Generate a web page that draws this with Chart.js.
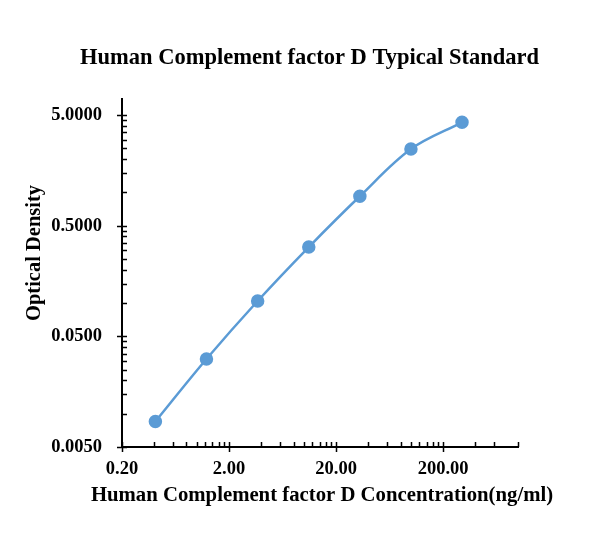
<!DOCTYPE html>
<html><head><meta charset="utf-8">
<script src="https://cdn.jsdelivr.net/npm/chart.js@4/dist/chart.umd.min.js"></script>
<style>html,body{margin:0;padding:0;background:#fff;}canvas{display:block;}</style>
</head><body>
<canvas id="c" width="610" height="557"></canvas>
<script>
// ---- data ----
const concentrations = [0.41, 1.23, 3.70, 11.11, 33.33, 100, 300];
const opticalDensity = [0.0085, 0.0312, 0.1045, 0.321, 0.924, 2.47, 4.31];
const xMajorTicks = [0.2, 2, 20, 200];
const xTickLabels = ['0.20', '2.00', '20.00', '200.00'];
const xMinorTicks = [0.4, 0.6, 0.8, 1, 1.2, 1.4, 1.6, 1.8,
                     4, 6, 8, 10, 12, 14, 16, 18,
                     40, 60, 80, 100, 120, 140, 160, 180,
                     400, 600, 1000];
const yMajorTicks = [0.005, 0.05, 0.5, 5];
const yTickLabels = ['0.0050', '0.0500', '0.5000', '5.0000'];
const yMinorTicks = [0.01, 0.015, 0.02, 0.025, 0.03, 0.035, 0.04, 0.045,
                     0.1, 0.15, 0.2, 0.25, 0.3, 0.35, 0.4, 0.45,
                     1, 1.5, 2, 2.5, 3, 3.5, 4, 4.5];
const xRange = [0.2, 1000];
const yRange = [0.005, 7];
const chartTitle = 'Human Complement factor D Typical Standard';
const xTitle = 'Human Complement factor D Concentration(ng/ml)';
const yTitle = 'Optical Density';

const SERIF = "'Liberation Serif', 'Times New Roman', serif";
const BLUE = '#5B9BD5';

function buildTicks(major, minor) {
  return major.map(v => ({value: v, major: true}))
    .concat(minor.map(v => ({value: v, major: false})))
    .sort((a, b) => a.value - b.value);
}

const tickMarks = {
  id: 'tickMarks',
  beforeDatasetsDraw(chart) {
    const ctx = chart.ctx;
    const xs = chart.scales.x, ys = chart.scales.y;
    ctx.save();
    ctx.strokeStyle = '#000';
    ctx.lineWidth = 1.5;
    ctx.beginPath();
    xs.ticks.forEach(t => {
      const px = Math.round(xs.getPixelForValue(t.value)) + 0.5;
      const y0 = xs.top;
      if (t.major) { ctx.moveTo(px, y0 - 5); ctx.lineTo(px, y0 + 5); }
      else { ctx.moveTo(px, y0 - 5); ctx.lineTo(px, y0); }
    });
    ys.ticks.forEach(t => {
      const py = Math.round(ys.getPixelForValue(t.value)) + 0.5;
      const x0 = ys.right;
      if (t.major) { ctx.moveTo(x0 - 5, py); ctx.lineTo(x0 + 5, py); }
      else { ctx.moveTo(x0, py); ctx.lineTo(x0 + 5, py); }
    });
    ctx.stroke();
    ctx.restore();
  }
};

const axisTitles = {
  id: 'axisTitles',
  afterDraw(chart) {
    const ctx = chart.ctx;
    const xs = chart.scales.x, ys = chart.scales.y;
    ctx.save();
    ctx.fillStyle = '#000';
    ctx.textAlign = 'center';
    ctx.textBaseline = 'middle';
    // x axis title
    ctx.font = 'bold 20.75px ' + SERIF;
    ctx.fillText(xTitle, (xs.left + xs.right) / 2 + 2, xs.top + 49);
    // y axis title
    ctx.translate(35, (ys.top + ys.bottom) / 2 - 20);
    ctx.rotate(-Math.PI / 2);
    ctx.font = 'bold 20.5px ' + SERIF;
    ctx.fillText(yTitle, 0, 0);
    ctx.restore();
  }
};

new Chart(document.getElementById('c'), {
  type: 'line',
  data: {
    datasets: [{
      data: concentrations.map((x, i) => ({x: x, y: opticalDensity[i]})),
      borderColor: BLUE,
      backgroundColor: BLUE,
      borderWidth: 2.5,
      pointRadius: 5.5,
      pointHoverRadius: 5.5,
      pointBackgroundColor: BLUE,
      pointBorderColor: BLUE,
      tension: 0.35,
      fill: false,
      clip: false
    }]
  },
  options: {
    responsive: false,
    animation: false,
    devicePixelRatio: 1,
    layout: {padding: {left: 9, right: 0, top: 0, bottom: 0}},
    plugins: {
      legend: {display: false},
      tooltip: {enabled: false},
      title: {
        display: true,
        text: chartTitle,
        color: '#000',
        font: {family: SERIF, size: 22.5, weight: 'bold'},
        padding: {top: 44.5, bottom: 27.5}
      }
    },
    scales: {
      x: {
        type: 'logarithmic',
        position: 'bottom',
        min: xRange[0], max: xRange[1],
        grid: {display: false, drawTicks: false},
        border: {display: true, color: '#000', width: 2},
        afterBuildTicks(s) { s.ticks = buildTicks(xMajorTicks, xMinorTicks); },
        afterFit(s) { s.height = 110; },
        ticks: {
          autoSkip: false, maxRotation: 0, minRotation: 0,
          padding: 11,
          color: '#000',
          font: {family: SERIF, size: 18.5, weight: 'bold'},
          callback(v) { const i = xMajorTicks.indexOf(v); return i >= 0 ? xTickLabels[i] : ''; }
        },
        title: {display: false}
      },
      y: {
        type: 'logarithmic',
        position: 'left',
        min: yRange[0], max: yRange[1],
        grid: {display: false, drawTicks: false},
        border: {display: true, color: '#000', width: 2},
        afterBuildTicks(s) { s.ticks = buildTicks(yMajorTicks, yMinorTicks); },
        afterFit(s) { s.width = 113; },
        ticks: {
          autoSkip: false,
          padding: 20,
          color: '#000',
          font: {family: SERIF, size: 18.5, weight: 'bold'},
          callback(v) { const i = yMajorTicks.indexOf(v); return i >= 0 ? yTickLabels[i] : ''; }
        }
      },
      yRight: {
        type: 'linear',
        position: 'right',
        display: true,
        grid: {display: false, drawTicks: false},
        border: {display: false},
        ticks: {display: false},
        afterFit(s) { s.width = 92; }
      }
    }
  },
  plugins: [tickMarks, axisTitles]
});
</script>
</body></html>
